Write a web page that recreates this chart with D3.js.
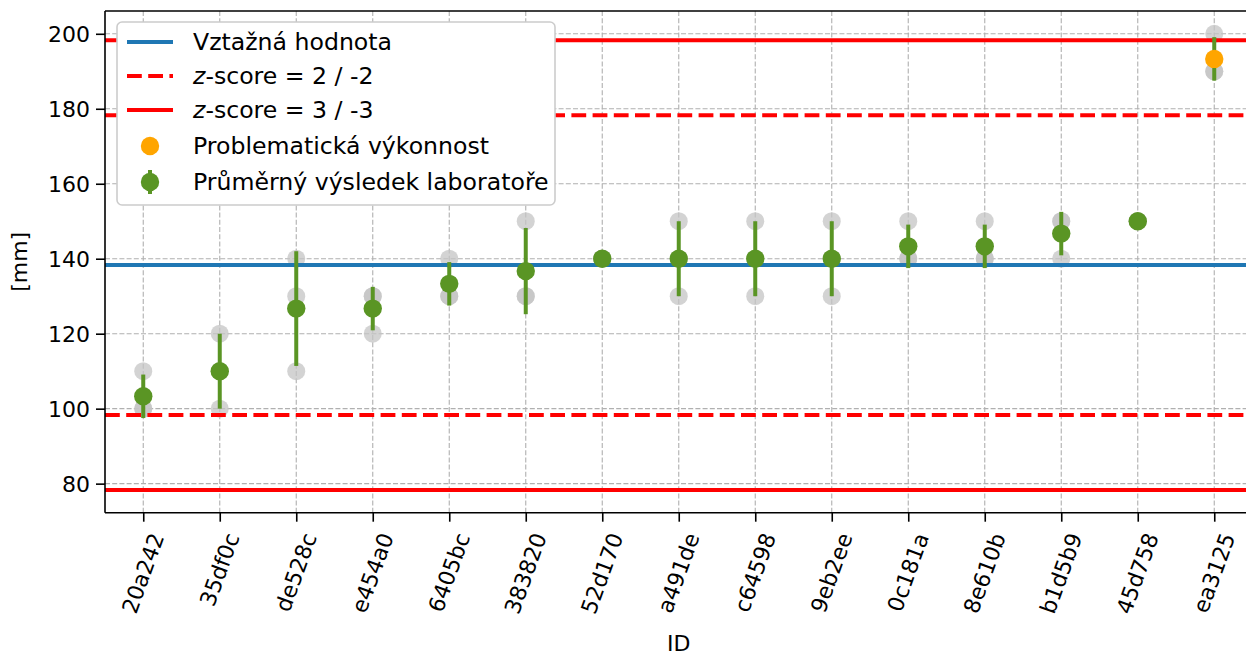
<!DOCTYPE html>
<html><head><meta charset="utf-8">
<script src="https://cdn.jsdelivr.net/npm/d3@7"></script>
<style>html,body{margin:0;padding:0;background:#fff;overflow:hidden}svg{display:block}text{font-family:"DejaVu Sans",sans-serif}</style>
</head><body>
<svg id="chart" width="1246" height="655"></svg>
<script>
// ---- data ----
const ids = ["20a242","35df0c","de528c","e454a0","6405bc","383820","52d170","a491de","c64598","9eb2ee","0c181a","8e610b","b1d5b9","45d758","ea3125"];
const labResults = [
  [100,100,110],[100,110,120],[110,130,140],[120,130,130],[130,130,140],
  [130,130,150],[140,140,140],[130,140,150],[130,140,150],[130,140,150],
  [140,140,150],[140,140,150],[140,150,150],[150,150,150],[190,190,200]
];
const labMeans = [103.3,110,126.7,126.7,133.3,136.7,140,140,140,140,143.3,143.3,146.7,150,193.3];
const labSD    = [5.8,10,15.3,5.8,5.8,11.5,0,10,10,10,5.8,5.8,5.8,0,5.8];
const problematic = [false,false,false,false,false,false,false,false,false,false,false,false,false,false,true];
const refValue = 138.3;
const z2Lines = [178.3, 98.3];
const z3Lines = [198.3, 78.3];
const yTicks = [80,100,120,140,160,180,200];
const legendLabels = ["Vztažná hodnota","z-score = 2 / -2","z-score = 3 / -3","Problematická výkonnost","Průměrný výsledek laboratoře"];

// ---- layout ----
const L = 105, T = 11, B = 512.7, R = 1252.5;
const FS = 22, LFS = 23.6;
const cBlue = "#1f77b4", cRed = "#ff0000", cGreen = "#5a9524", cOrange = "#ffa500", cGray = "#c4c4c4";

const svg = d3.select("#chart");
const x = d3.scaleLinear().domain([-0.5, ids.length - 0.5]).range([L, R]);
const y = d3.scaleLinear().domain([72.25, 206.08]).range([B, T]);

// grid
const grid = svg.append("g").attr("stroke", "#b0b0b0").attr("stroke-width", 1.1).attr("stroke-dasharray", "5,2.2");
ids.forEach((d, i) => grid.append("line").attr("x1", x(i)).attr("x2", x(i)).attr("y1", T).attr("y2", B));
yTicks.forEach(v => grid.append("line").attr("x1", L).attr("x2", R).attr("y1", y(v)).attr("y2", y(v)));

// individual results (gray)
const plot = svg.append("g");
labResults.forEach((vals, i) => {
  vals.forEach(v => plot.append("circle").attr("cx", x(i)).attr("cy", y(v)).attr("r", 9).attr("fill", cGray).attr("fill-opacity", 0.75));
});

// horizontal lines
function hline(v, color, dash) {
  const l = plot.append("line").attr("x1", L).attr("x2", R).attr("y1", y(v)).attr("y2", y(v))
    .attr("stroke", color).attr("stroke-width", 4);
  if (dash) l.attr("stroke-dasharray", dash);
}
hline(refValue, cBlue);
z2Lines.forEach(v => hline(v, cRed, "14.8,6.4"));
z3Lines.forEach(v => hline(v, cRed));

// error bars + means
labMeans.forEach((m, i) => {
  if (labSD[i] > 0) {
    plot.append("line").attr("x1", x(i)).attr("x2", x(i)).attr("y1", y(m - labSD[i])).attr("y2", y(m + labSD[i]))
      .attr("stroke", cGreen).attr("stroke-width", 4);
  }
  plot.append("circle").attr("cx", x(i)).attr("cy", y(m)).attr("r", 9.2).attr("fill", problematic[i] ? cOrange : cGreen);
});

// spines
svg.append("line").attr("x1", L).attr("x2", L).attr("y1", T).attr("y2", B).attr("stroke", "#000").attr("stroke-width", 1.6);
svg.append("line").attr("x1", L).attr("x2", R).attr("y1", B).attr("y2", B).attr("stroke", "#000").attr("stroke-width", 1.6);
svg.append("line").attr("x1", L).attr("x2", R).attr("y1", T).attr("y2", T).attr("stroke", "#000").attr("stroke-width", 1.6);

// y axis
const yAxis = d3.axisLeft(y).tickValues(yTicks).tickSize(9).tickPadding(6).tickFormat(d3.format("d"));
const gy = svg.append("g").attr("transform", `translate(${L},0)`).call(yAxis);
gy.select(".domain").remove();
gy.selectAll(".tick line").attr("stroke", "#000").attr("stroke-width", 1.6);
gy.selectAll(".tick text").attr("font-size", FS).attr("fill", "#000").attr("font-family", "DejaVu Sans").attr("dy", "0.35em");

// x axis
const xAxis = d3.axisBottom(x).tickValues(d3.range(ids.length)).tickSize(9).tickFormat(() => "");
const gx = svg.append("g").attr("transform", `translate(0,${B})`).call(xAxis);
gx.select(".domain").remove();
gx.selectAll(".tick line").attr("stroke", "#000").attr("stroke-width", 1.6);

const ang = 70 * Math.PI / 180;
const labTop = B + 9 + 8;
ids.forEach((d, i) => {
  const t = svg.append("text").attr("font-size", FS).attr("text-anchor", "middle")
    .attr("dominant-baseline", "central").text(d);
  const bb = t.node().getBBox();
  const H = bb.width * Math.sin(ang) + bb.height * Math.cos(ang);
  t.attr("transform", `translate(${x(i)},${labTop + H / 2}) rotate(-70)`);
});

// axis labels
svg.append("text").attr("x", (L + R) / 2).attr("y", 651).attr("text-anchor", "middle").attr("font-size", FS).text("ID");
svg.append("text").attr("transform", `translate(27,${(T + B) / 2}) rotate(-90)`).attr("text-anchor", "middle").attr("font-size", FS).text("[mm]");

// legend
const lg = svg.append("g");
lg.append("rect").attr("x", 117).attr("y", 22).attr("width", 438).attr("height", 183).attr("rx", 5)
  .attr("fill", "#fff").attr("stroke", "#cccccc").attr("stroke-width", 1.6);
const rows = [42, 76, 110, 146, 182];
const hx1 = 127, hx2 = 173, hc = 150, tx = 193;
lg.append("line").attr("x1", hx1).attr("x2", hx2).attr("y1", rows[0]).attr("y2", rows[0]).attr("stroke", cBlue).attr("stroke-width", 4);
lg.append("line").attr("x1", hx1).attr("x2", hx2).attr("y1", rows[1]).attr("y2", rows[1]).attr("stroke", cRed).attr("stroke-width", 4).attr("stroke-dasharray", "14.8,6.4");
lg.append("line").attr("x1", hx1).attr("x2", hx2).attr("y1", rows[2]).attr("y2", rows[2]).attr("stroke", cRed).attr("stroke-width", 4);
lg.append("circle").attr("cx", hc).attr("cy", rows[3]).attr("r", 9.2).attr("fill", cOrange);
lg.append("line").attr("x1", hc).attr("x2", hc).attr("y1", rows[4] - 12).attr("y2", rows[4] + 12).attr("stroke", cGreen).attr("stroke-width", 4);
lg.append("circle").attr("cx", hc).attr("cy", rows[4]).attr("r", 9.2).attr("fill", cGreen);
legendLabels.forEach((s, k) => {
  const t = lg.append("text").attr("x", tx).attr("y", rows[k]).attr("dy", "0.36em").attr("font-size", LFS);
  if (s.startsWith("z-")) {
    t.append("tspan").attr("font-style", "italic").text("z");
    t.append("tspan").text(s.slice(1));
  } else t.text(s);
});
</script>
</body></html>
